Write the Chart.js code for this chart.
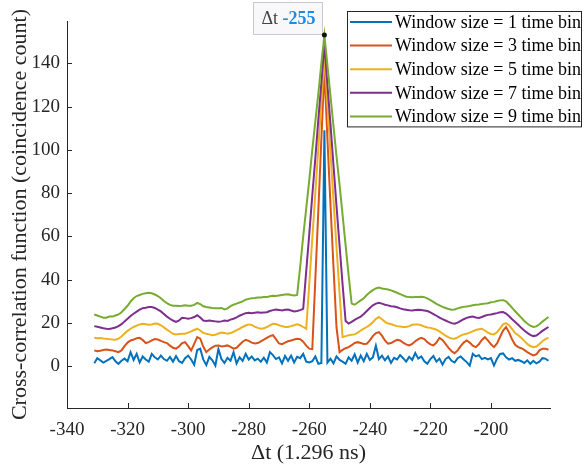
<!DOCTYPE html>
<html>
<head>
<meta charset="utf-8">
<script src="https://cdn.jsdelivr.net/npm/chart.js@4.4.1/dist/chart.umd.min.js"></script>
<style>
  html, body { margin: 0; padding: 0; background: #fff; }
  #wrap { width: 584px; height: 470px; }
</style>
</head>
<body>
<div id="wrap"><canvas id="xcorr"></canvas></div>
<script>
// time lag bins (units of 1.296 ns)
const lags = [
  -331,-330,-329,-328,-327,-326,-325,-324,-323,-322,-321,-320,-319,-318,-317,-316,-315,-314,-313,-312,
  -311,-310,-309,-308,-307,-306,-305,-304,-303,-302,-301,-300,-299,-298,-297,-296,-295,-294,-293,-292,
  -291,-290,-289,-288,-287,-286,-285,-284,-283,-282,-281,-280,-279,-278,-277,-276,-275,-274,-273,-272,
  -271,-270,-269,-268,-267,-266,-265,-264,-263,-262,-261,-260,-259,-258,-257,-256,-255,-254,-253,-252,
  -251,-250,-249,-248,-247,-246,-245,-244,-243,-242,-241,-240,-239,-238,-237,-236,-235,-234,-233,-232,
  -231,-230,-229,-228,-227,-226,-225,-224,-223,-222,-221,-220,-219,-218,-217,-216,-215,-214,-213,-212,
  -211,-210,-209,-208,-207,-206,-205,-204,-203,-202,-201,-200,-199,-198,-197,-196,-195,-194,-193,-192,
  -191,-190,-189,-188,-187,-186,-185,-184,-183,-182,-181
];

const seriesNames = [
  'Window size = 1 time bin',
  'Window size = 3 time bin',
  'Window size = 5 time bin',
  'Window size = 7 time bin',
  'Window size = 9 time bin'
];

const win1 = [
  1.5,3.8,2.8,1.8,2.6,3.4,4.3,2.4,1.2,2.6,3.6,2.4,6.6,3,5.8,1.8,4.6,3.2,2.2,5.8,
  4.2,3.2,5,3.4,2.6,4.4,2.2,4.8,2.4,1.6,3.8,5,3.2,0.8,7.6,8.2,3.2,0.6,4.4,2.8,
  0.4,8,3.4,1.6,4,2.6,6.6,1.4,4.2,2.6,5.8,3.2,4.6,2.8,3.6,2.2,4,1.8,6.6,5.2,
  3.4,4.2,1.4,4.8,2.6,5,1.8,4.4,3.8,5.8,2.2,1.8,2.4,4.6,1.2,1.6,109,1.8,3.6,1.4,
  4.6,3,2.2,1.2,4.2,2.6,5.6,1.8,5,2.4,5.8,3,4.2,9.6,3.4,5,2.8,4.6,1.6,4,
  3.2,5.2,3.8,2.2,4.4,3,6.2,3.6,4.6,2.4,1.2,3.4,4.8,2.2,3.6,0.8,3.4,4.4,2.6,1.8,
  3.8,4.6,3.2,2,0.4,5.8,4.6,5.2,3.4,4,3.2,3.8,0.4,3.6,5.8,6,4.2,3.2,3.8,2.6,
  3,2.4,1.6,2.8,1.2,2.6,1.4,2.2,3.8,3.6,2.6
];

const win3 = [
  7.4,7,7.2,7.6,7.8,7.6,7.4,7,6.6,7.4,9.4,11,12,12.4,13,13.2,12.2,10.8,11.2,12,
  12.6,12.4,11.8,11.2,10.8,9.6,8.6,8.2,9.2,10.8,11.2,9.4,7.4,10.4,13.5,12.8,9.2,6.6,7.8,8.8,
  9.6,9.7,9.2,9.4,9.7,9,8.2,8.6,10,11.4,12.3,11.8,11,10.6,10.8,11.6,12.4,13.2,14,14.4,
  12.6,10.6,10.3,11,11.6,12,12.4,12.8,12.6,11.4,9.6,8.2,8,40,72,105,137,105,75,46,
  18,6.6,7.6,8.4,8.9,9.8,10.8,11.2,10.8,10.4,10.5,12,14,15.4,15.8,14.2,12,10.5,10.8,11.6,
  12.3,12,11,10.2,9.7,10.4,11.6,12.6,13.2,12.6,11.2,10.2,9.7,11,13.2,12.2,10.4,8.6,7,6.1,
  7.4,9.4,11,12,11,9.6,8.9,10.2,12.2,13.5,12,10.2,8.9,10.6,13.6,16.6,18.2,15.6,12.4,10,
  8.9,8.4,7.6,6.6,5.8,5.1,5.6,7.4,8.2,8.2,7.7
];

const win5 = [
  13.2,13,13.1,12.9,12.8,12.6,12.4,12.3,12.8,13.8,15.2,16.4,17.4,18.2,18.8,19.4,19.7,19.5,19.2,19.4,
  19.8,19.7,19,18,17,16,15.1,14.8,15,15.1,15.1,15.6,16.2,16.8,17.4,16.6,15.5,15.1,14.8,14.4,
  14.6,15.2,15.6,15.4,15.1,15.4,16,16.8,17.4,18.2,18.9,19.4,19.2,18.4,17.8,17.4,17.6,18.2,19,19.7,
  19.6,19,18.6,18.2,18.2,18.6,19,19.4,19,18.2,17.4,38,59,80,101,122,143,121,99,77,
  55,34,13.5,14,14.4,14.6,14.8,15.6,16.6,17.4,18.2,19.2,20.4,22,22.8,21.8,20.6,19.8,19.6,19,
  18.6,18.4,18.2,18.2,18.6,19.2,19.4,19.4,19,18.4,18,17.8,17.4,17,16.2,15.2,14.2,13.4,12.9,12.8,
  13.4,14.2,14.8,15.1,15.6,16.2,16.8,17.2,17.4,16.6,15.6,15,14.8,15.8,17.6,19.4,20,19,17.2,15.4,
  14.4,13.2,11.8,10.4,9.4,8.9,9.2,10.4,11.6,12.6,13.2
];

const win7 = [
  18.6,18.3,18,17.6,17.4,17.3,17.6,18,18.6,19.5,20.8,22,23.3,24.3,25.3,26.2,26.9,27.1,27.4,27.4,
  27,26.2,25.4,24.2,23,22,21.2,20.6,21.2,22.5,22.3,22,22.3,22.8,23.6,22.6,21.2,21,21.2,21,
  20.8,20.6,20.8,21.2,21,21.6,22,22.6,23.4,24,24.6,24.8,24.6,24.8,25,24.8,24.9,25,25.6,26,
  26.3,26.1,25.8,26.2,26.3,25.8,25.4,25.6,26,26.6,44,61,79,96,114,131,149,130,112,93,
  74,56,38,21,19.8,20.6,21.5,22.3,23,24.2,25.6,27,28.2,29,29.4,29,28.5,28.2,27.8,27.7,
  27.3,26.8,26.4,26.2,25.9,25.8,26,26.2,26,25.8,25.6,25,24.2,23.4,22.5,21.8,21.2,20.6,20,19.7,
  20.2,21,21.8,22.4,22.8,23,22.6,22.4,22.8,23.4,23.8,24,24.3,24.6,25,25.1,24.4,23.2,21.8,20.5,
  19.2,17.8,16.6,15.5,14.6,14,14.3,15.3,16.4,17.3,18.2
];

const win9 = [
  24,23.5,23,22.5,22.5,23,23,23.5,24,25,26.5,28,30,31.5,32.5,33,33.5,33.8,34,33.8,
  33.2,32.5,31.5,30.2,29.2,28.4,28,28,27.9,28,28.2,28,28,28.4,29.3,28.8,27.8,27.4,27.2,27,
  26.9,26.9,27,26.3,26.8,27.8,28.5,29,29.5,30,30.8,31.2,31.5,31.6,31.8,31.8,32,32,32.4,32.6,
  32.5,32.8,33,33.2,33.3,33,32.8,33,46,60,73,86,100,113,126,140,153,139,125,111,
  97,84,70,56,42,29,28.5,29.5,30.5,31.5,33,34.2,35.2,36,36.4,36,35.8,35.5,35.1,34.6,
  34,33.4,32.8,32.2,32,31.9,32,32.1,32.2,32,31.4,30.6,29.8,28.9,28.2,27.5,27,26.5,26.2,26.3,
  26.8,27.2,27.5,27.7,27.9,28.2,28.5,28.6,28.8,29,29.2,29.6,29.8,30.2,30.5,30.6,30,28.6,27,25.5,
  24,22.5,21,19.8,18.8,18.2,18.5,19.5,20.7,21.8,22.8
];

const xTicks = [-340, -320, -300, -280, -260, -240, -220, -200];
const yTicks = [0, 20, 40, 60, 80, 100, 120, 140];

// data tip shown on the peak of the widest window
const tipLag = -255;
const tipValue = 153;

const colors = ['#0072BD', '#D95319', '#EDB120', '#7E2F8E', '#77AC30'];
const serif = "'Liberation Serif', 'Times New Roman', serif";
const axisColor = '#262626';

const allSeries = [win1, win3, win5, win7, win9];

function toPoints(values) {
  return values.map((v, i) => ({ x: lags[i], y: v }));
}

// inside tick marks, matlab style
const insideTicks = {
  id: 'insideTicks',
  afterDraw(chart) {
    const { ctx, chartArea: a, scales: { x, y } } = chart;
    ctx.save();
    ctx.strokeStyle = axisColor;
    ctx.lineWidth = 1;
    ctx.beginPath();
    x.ticks.forEach(t => {
      const px = Math.round(x.getPixelForValue(t.value)) + 0.5;
      ctx.moveTo(px, a.bottom);
      ctx.lineTo(px, a.bottom - 5);
    });
    y.ticks.forEach(t => {
      const py = Math.round(y.getPixelForValue(t.value)) + 0.5;
      ctx.moveTo(a.left, py);
      ctx.lineTo(a.left + 5, py);
    });
    ctx.stroke();
    ctx.restore();
  }
};

const boxLegend = {
  id: 'boxLegend',
  afterDraw(chart) {
    const { ctx } = chart;
    const left = 347, top = 11, w = chart.width - 2 - left, rowH = 23.6;
    const h = rowH * (seriesNames.length - 1) + 22;
    ctx.save();
    ctx.fillStyle = '#fff';
    ctx.fillRect(left, top, w, h);
    ctx.strokeStyle = axisColor;
    ctx.lineWidth = 1;
    ctx.strokeRect(left + 0.5, top + 0.5, w - 1, h - 1);
    ctx.font = '18px ' + serif;
    ctx.textBaseline = 'middle';
    ctx.fillStyle = '#000';
    chart.data.datasets.forEach((ds, i) => {
      const cy = top + 11 + i * rowH;
      ctx.strokeStyle = ds.borderColor;
      ctx.lineWidth = 2;
      ctx.beginPath();
      ctx.moveTo(left + 3, cy);
      ctx.lineTo(left + 45, cy);
      ctx.stroke();
      ctx.fillText(ds.label, left + 48, cy + 1);
    });
    ctx.restore();
  }
};

const dataTip = {
  id: 'dataTip',
  afterDraw(chart) {
    const { ctx, scales: { x, y } } = chart;
    const px = x.getPixelForValue(tipLag);
    const py = y.getPixelForValue(tipValue);
    ctx.save();
    const bw = 69, bh = 32;
    const bx = px - bw - 2, by = py - bh - 1;
    ctx.fillStyle = '#f8f8fa';
    ctx.fillRect(bx, by, bw, bh);
    ctx.strokeStyle = '#c9c9cf';
    ctx.lineWidth = 1;
    ctx.strokeRect(Math.round(bx) + 0.5, Math.round(by) + 0.5, bw, bh);
    ctx.textBaseline = 'middle';
    ctx.font = '18px ' + serif;
    ctx.fillStyle = '#444';
    const t1 = '\u0394t ';
    ctx.fillText(t1, bx + 8, by + bh / 2 + 1);
    const w1 = ctx.measureText(t1).width;
    ctx.font = 'bold 18px ' + serif;
    ctx.fillStyle = '#1f8be0';
    ctx.fillText(String(tipLag), bx + 8 + w1, by + bh / 2 + 1);
    ctx.fillStyle = '#111';
    ctx.beginPath();
    ctx.arc(px, py, 2.5, 0, Math.PI * 2);
    ctx.fill();
    ctx.restore();
  }
};

new Chart(document.getElementById('xcorr'), {
  type: 'line',
  data: {
    datasets: allSeries.map((s, i) => ({
      label: seriesNames[i],
      data: toPoints(s),
      borderColor: colors[i],
      backgroundColor: colors[i],
      borderWidth: 2,
      pointRadius: 0,
      tension: 0,
      order: allSeries.length - i
    }))
  },
  options: {
    responsive: true,
    maintainAspectRatio: false,
    animation: false,
    layout: { padding: { top: 21, right: 34, left: 0, bottom: 0 } },
    plugins: {
      legend: { display: false },
      tooltip: { enabled: false }
    },
    scales: {
      x: {
        type: 'linear',
        min: -340,
        max: -180.5,
        afterBuildTicks: s => { s.ticks = xTicks.map(v => ({ value: v })); },
        afterFit: s => { s.height = 62; },
        grid: { drawOnChartArea: false, drawTicks: false },
        border: { display: true, color: axisColor, width: 1 },
        ticks: {
          color: axisColor,
          padding: 11,
          maxRotation: 0,
          font: { family: serif, size: 19 }
        },
        title: {
          display: true,
          text: '\u0394t (1.296 ns)',
          color: axisColor,
          padding: { top: 0, bottom: 4 },
          font: { family: serif, size: 22 }
        }
      },
      y: {
        min: -19.2,
        max: 159.5,
        afterBuildTicks: s => { s.ticks = yTicks.map(v => ({ value: v })); },
        afterFit: s => { s.width = 67; },
        grid: { drawOnChartArea: false, drawTicks: false },
        border: { display: true, color: axisColor, width: 1 },
        ticks: {
          color: axisColor,
          padding: 7,
          font: { family: serif, size: 19 }
        },
        title: {
          display: true,
          text: 'Cross-correlation function (coincidence count)',
          color: axisColor,
          padding: { top: 7, bottom: 0 },
          font: { family: serif, size: 22 }
        }
      }
    }
  },
  plugins: [insideTicks, dataTip, boxLegend]
});
</script>
</body>
</html>
